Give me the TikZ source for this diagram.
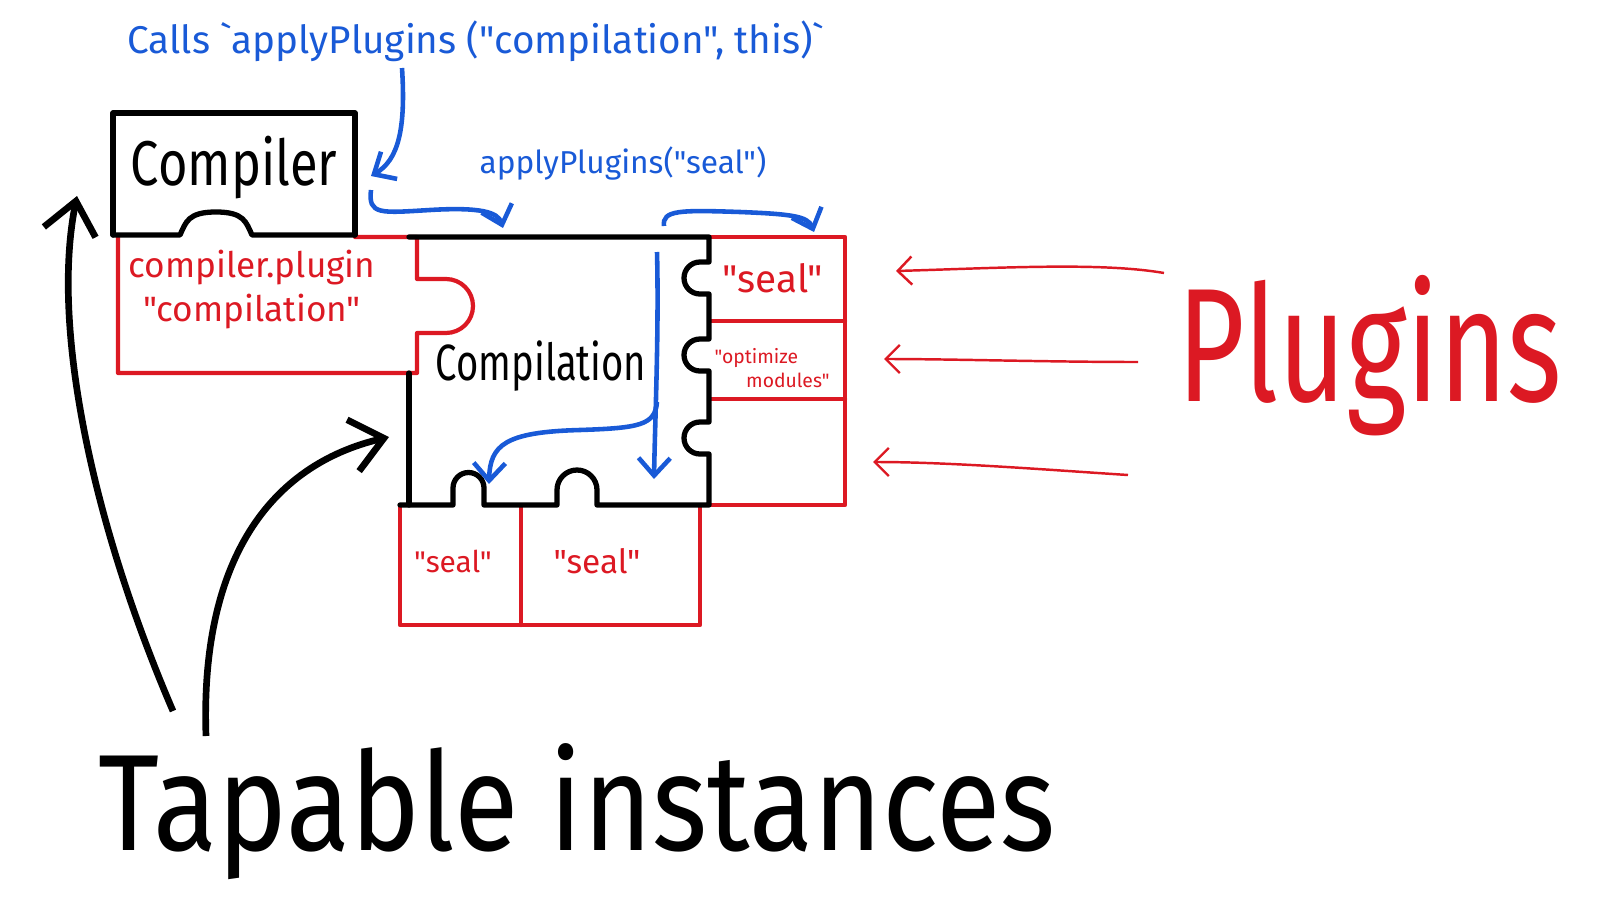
\documentclass[tikz,border=0pt]{standalone}
\usepackage{fontspec}
\newfontfamily\handfont{Fira Sans}[Ligatures=TeXOff]
\usetikzlibrary{arrows.meta}
\definecolor{penblue}{RGB}{25,90,215}
\definecolor{penred}{RGB}{220,25,35}
\newcommand\handsize[2]{\handfont\fontsize{#1}{#2}\selectfont}
\tikzset{
  piece/.style={line width=1.5pt, line join=round, line cap=round},
  blackpiece/.style={piece, draw=black},
  redpiece/.style={piece, draw=penred, line width=1.2pt},
  bluearrow/.style={-{Straight Barb[length=5pt,width=9pt]}, penblue, line width=1.3pt},
  redarrow/.style={-{Straight Barb[length=4pt,width=8pt]}, penred, line width=0.7pt},
  bigarrow/.style={-{Straight Barb[length=9pt,width=15pt]}, black, line width=1.9pt},
  hand/.style={inner sep=0pt},
}

\begin{document}
\begin{tikzpicture}[x=0.01cm, y=-0.01cm]
  \useasboundingbox (0,0) rectangle (1615,900);

  % 1. red plugin pieces
  \draw[redpiece] (355,237) -- (417,237) -- (417,279) -- (446,279)
    arc[start angle=-90, end angle=90, radius=27] -- (417,333) -- (417,373)
    -- (118,373) -- (118,235);                       % compiler.plugin
  \draw[redpiece] (709,237) -- (845,237) -- (845,505) -- (709,505);
  \draw[redpiece] (709,321) -- (845,321);
  \draw[redpiece] (709,399) -- (845,399);
  \draw[redpiece] (400,505) -- (400,625) -- (700,625) -- (700,505);
  \draw[redpiece] (521,505) -- (521,625);

  % 2. Compiler piece
  \draw[blackpiece] (113,235) -- (113,113) -- (355,113) -- (355,235);
  \draw[blackpiece] (113,235) -- (180,235)
    .. controls (186,222) and (188,212) .. (216,212)
    .. controls (244,212) and (246,222) .. (252,235) -- (355,235);

  % 3. Compilation piece (notches right, knobs below)
  \draw[blackpiece] (409,237) -- (709,237)
    -- (709,262) -- (700,262) arc[start angle=270, end angle=90, radius=16] -- (709,294)
    -- (709,339) -- (700,339) arc[start angle=270, end angle=90, radius=16] -- (709,371)
    -- (709,422) -- (700,422) arc[start angle=270, end angle=90, radius=16] -- (709,454)
    -- (709,505) -- (597,505) -- (597,490)
    arc[start angle=0, end angle=-180, radius=20] -- (557,505) -- (484,505) -- (484,488)
    arc[start angle=0, end angle=-180, radius=15.5] -- (453,505) -- (400,505);
  \draw[blackpiece] (409,505) -- (409,373);

  % 4. labels
  \node[hand, font=\handsize{18}{20}, xscale=0.8] (compilerlabel) at (234,168) {Compiler};
  \node[hand, font=\handsize{10}{12.5}, text=penred, align=center] (pluginlabel) at (252,290)
    {compiler.plugin\\"compilation"};
  \node[hand, font=\handsize{14.5}{17}, xscale=0.75] (compilationlabel) at (541,366) {Compilation};
  \node[hand, font=\handsize{11}{13}, text=penred] (sealright) at (773,278) {"seal"};
  \node[hand, font=\handsize{5.5}{7}, text=penred, align=left] (optimizelabel) at (772,368)
    {"optimize\\\hspace{9pt}modules"};
  \node[hand, font=\handsize{8.5}{10}, text=penred] (seala) at (453,561) {"seal"};
  \node[hand, font=\handsize{9.5}{11}, text=penred] (sealb) at (597,561) {"seal"};
  \node[hand, font=\handsize{11}{14}, text=penblue] (calltext) at (476,41)
    {Calls `applyPlugins ("compilation", this)`};
  \node[hand, font=\handsize{9}{11}, text=penblue] (sealcall) at (623,163) {applyPlugins("seal")};
  \node[hand, font=\handsize{46}{50}, text=penred, xscale=0.72] (pluginstext) at (1370,356) {Plugins};
  \node[hand, font=\handsize{39}{42}, xscale=0.86] (tapable) at (577,812) {Tapable instances};

  % 5. end points of the arrows
  \coordinate (callstart)   at (402,68);
  \coordinate (callend)     at (371,176);
  \coordinate (hookstart)   at (371,190);
  \coordinate (hookend)     at (503,228);
  \coordinate (sealstart)   at (664,226);
  \coordinate (sealend)     at (814,232);
  \coordinate (downstart)   at (657,252);
  \coordinate (downend)     at (654,479);
  \coordinate (branchstart) at (657,402);
  \coordinate (branchend)   at (489,484);
  \coordinate (plugtail1)   at (1164,273);
  \coordinate (plughead1)   at (896,271);
  \coordinate (plugtail2)   at (1138,362);
  \coordinate (plughead2)   at (884,359);
  \coordinate (plugtail3)   at (1128,475);
  \coordinate (plughead3)   at (873,462);
  \coordinate (tapetail1)   at (173,711);
  \coordinate (tapehead1)   at (77,196);
  \coordinate (tapetail2)   at (206,736);
  \coordinate (tapehead2)   at (389,437);

  % 6. blue calls
  \draw[bluearrow] (callstart) .. controls (406,130) and (398,160) .. (callend);
  \draw[bluearrow] (hookstart) .. controls (368,215) and (380,213) .. (430,210)
    .. controls (480,207) and (498,212) .. (hookend);
  \draw[bluearrow] (sealstart) .. controls (662,210) and (680,210) .. (740,212)
    .. controls (790,214) and (808,216) .. (sealend);
  \draw[bluearrow] (downstart) .. controls (659,330) and (655,420) .. (downend);
  \draw[bluearrow] (branchstart) .. controls (655,425) and (640,428) .. (580,430)
    .. controls (505,432) and (490,445) .. (branchend);

  % 7. red plugin arrows
  \draw[redarrow] (plugtail1) .. controls (1100,262) and (1000,268) .. (plughead1);
  \draw[redarrow] (plugtail2) .. controls (1050,362) and (950,359) .. (plughead2);
  \draw[redarrow] (plugtail3) .. controls (1050,470) and (950,462) .. (plughead3);

  % 8. black arrows from the caption
  \draw[bigarrow] (tapetail1) .. controls (95,530) and (50,330) .. (tapehead1);
  \draw[bigarrow] (tapetail2) .. controls (200,560) and (270,465) .. (tapehead2);
\end{tikzpicture}
\end{document}
